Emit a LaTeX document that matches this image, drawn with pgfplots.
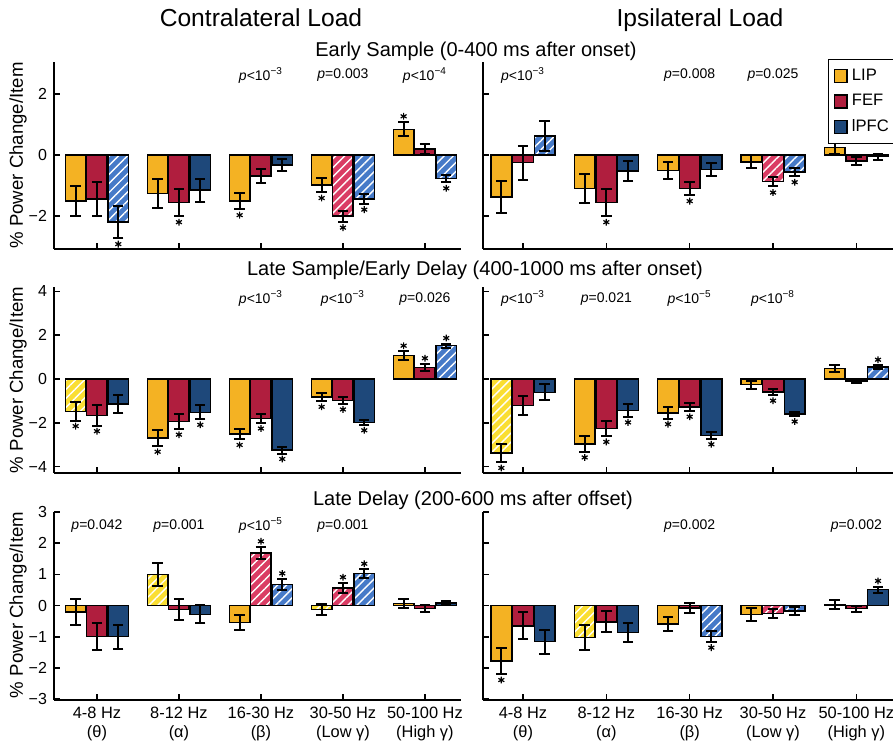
\documentclass[border=0pt]{standalone}
\usepackage{pgfplots}
\pgfplotsset{compat=1.18}
\usetikzlibrary{patterns.meta}
\usepackage{fontspec}
\setmainfont{Liberation Sans}

\definecolor{cLIP}{RGB}{244,178,35}
\definecolor{cFEF}{RGB}{176,30,62}
\definecolor{cPFC}{RGB}{30,72,122}
\definecolor{hLIP}{RGB}{250,222,50}
\definecolor{hFEF}{RGB}{218,60,100}
\definecolor{hPFC}{RGB}{70,122,200}

\tikzset{pv/.style={font=\fontsize{7}{8}\selectfont}}
\pgfplotsset{
  bars/.style={ybar, bar width=0.25, bar shift=0pt, draw=black, line width=0.75pt, forget plot,
     error bars/y dir=both, error bars/y explicit,
     error bars/error bar style={black, line width=1pt},
     error bars/error mark=-,
     error bars/error mark options={rotate=90, black, line width=1pt, mark size=2.6pt}},
  hfill/.style={ybar, bar width=0.25, bar shift=0pt, draw=none, forget plot},
  hpat/.style={bars, fill=none, pattern={Lines[angle=45,distance=3.2pt,line width=0.7pt]}, pattern color=white},
  LIPs/.style={bars, fill=cLIP},
  FEFs/.style={bars, fill=cFEF},
  PFCs/.style={bars, fill=cPFC},
  stars/.style={only marks, mark=asterisk, mark size=1.7pt, black, line width=0.6pt, forget plot},
  panel/.style={scale only axis, anchor=south west,
     axis x line*=bottom, axis y line*=left,
     xtick={1,2,3,4,5}, xticklabels={},
     tick align=inside, major tick length=3pt,
     tick style={black, line width=0.8pt},
     axis line style={line width=0.9pt},
     tick label style={font=\fontsize{8}{9}\selectfont},
     /pgf/number format/assume math mode=true},
  leftcol/.style={panel, width=203.5pt, xmin=0.476, xmax=5.44},
  rightcol/.style={panel, width=205pt, xmin=0.52, xmax=5.44, yticklabels={}},
  row1/.style={height=93.5pt, ymin=-3.08, ymax=3.05, ytick={-2,0,2}},
  row2/.style={height=93pt, ymin=-4.29, ymax=4.2, ytick={-4,-2,0,2,4}},
  row3/.style={height=94pt, ymin=-3.03, ymax=3.0, ytick={-3,-2,-1,0,1,2,3},
     xticklabels={{4-8 Hz\\(θ)},{8-12 Hz\\(α)},{16-30 Hz\\(β)},{30-50 Hz\\(Low γ)},{50-100 Hz\\(High γ)}},
     xticklabel style={align=center, font=\fontsize{8.2}{9.6}\selectfont}},
}
\newcommand{\pl}[1]{\textit{p}<10\textsuperscript{−#1}}
\newcommand{\pe}[1]{\textit{p}=#1}

\begin{document}
\begin{tikzpicture}
\useasboundingbox (0pt,0pt) rectangle (446.5pt,372.5pt);

% titles
\node[anchor=base, font=\fontsize{12.3}{14}\selectfont] at (130.5pt,359pt) {Contralateral Load};
\node[anchor=base, font=\fontsize{12.3}{14}\selectfont] at (350pt,359pt) {Ipsilateral Load};
\node[anchor=base, font=\fontsize{10}{12}\selectfont] at (238pt,344pt) {Early Sample (0-400 ms after onset)};
\node[anchor=base, font=\fontsize{10}{12}\selectfont] at (237.5pt,234.5pt) {Late Sample/Early Delay (400-1000 ms after onset)};
\node[anchor=base, font=\fontsize{10}{12}\selectfont] at (236.5pt,120pt) {Late Delay (200-600 ms after offset)};
\node[rotate=90, font=\fontsize{9.3}{11}\selectfont] at (9pt,294.75pt) {\% Power Change/Item};
\node[rotate=90, font=\fontsize{9.3}{11}\selectfont] at (9pt,182.5pt) {\% Power Change/Item};
\node[rotate=90, font=\fontsize{9.3}{11}\selectfont] at (9pt,70pt) {\% Power Change/Item};

% ---------- Row 1 left ----------
\begin{axis}[leftcol, row1, at={(27pt,248pt)}, yticklabels={−2,0,2}]
\addplot[LIPs] coordinates {(0.74,-1.50) +- (0,0.50) (1.74,-1.26) +- (0,0.49) (2.74,-1.50) +- (0,0.27) (3.74,-0.98) +- (0,0.23) (4.74,0.84) +- (0,0.23)};
\addplot[FEFs] coordinates {(1,-1.44) +- (0,0.57) (2,-1.55) +- (0,0.45) (3,-0.69) +- (0,0.24) (5,0.19) +- (0,0.17)};
\addplot[PFCs] coordinates {(2.26,-1.15) +- (0,0.38) (3.26,-0.33) +- (0,0.19)};
\addplot[hfill, fill=hFEF] coordinates {(4,-2.00)};
\addplot[hpat] coordinates {(4,-2.00) +- (0,0.18)};
\addplot[hfill, fill=hPFC] coordinates {(1.26,-2.19) (4.26,-1.44) (5.26,-0.77)};
\addplot[hpat] coordinates {(1.26,-2.19) +- (0,0.53) (4.26,-1.44) +- (0,0.15) (5.26,-0.77) +- (0,0.12)};
\addplot[stars] coordinates {(1.26,-2.92) (2,-2.20) (2.74,-1.97) (3.74,-1.41) (4,-2.38) (4.26,-1.79) (4.74,1.27) (5.26,-1.09)};
\node[pv] at (axis cs:3,2.62) {\pl{3}};
\node[pv] at (axis cs:4,2.62) {\pe{0.003}};
\node[pv] at (axis cs:5,2.62) {\pl{4}};
\end{axis}

% ---------- Row 1 right ----------
\begin{axis}[rightcol, row1, at={(241.5pt,248pt)},
  legend style={at={(0.841,1.016)}, anchor=north west, draw=black, line width=0.7pt,
    font=\fontsize{8.3}{10}\selectfont, row sep=1.5pt, inner sep=2.5pt, cells={anchor=west}}]
\addlegendimage{legend image code/.code={\draw[black, line width=0.8pt, fill=cLIP] (0pt,-3.2pt) rectangle (6.4pt,3.2pt);}}
\addlegendentry{LIP}
\addlegendimage{legend image code/.code={\draw[black, line width=0.8pt, fill=cFEF] (0pt,-3.2pt) rectangle (6.4pt,3.2pt);}}
\addlegendentry{FEF}
\addlegendimage{legend image code/.code={\draw[black, line width=0.8pt, fill=cPFC] (0pt,-3.2pt) rectangle (6.4pt,3.2pt);}}
\addlegendentry{lPFC}
\addplot[LIPs] coordinates {(0.74,-1.37) +- (0,0.52) (1.74,-1.09) +- (0,0.48) (2.74,-0.51) +- (0,0.27) (3.74,-0.22) +- (0,0.22) (4.74,0.25) +- (0,0.23)};
\addplot[FEFs] coordinates {(1,-0.25) +- (0,0.56) (2,-1.56) +- (0,0.44) (3,-1.09) +- (0,0.22) (5,-0.19) +- (0,0.14)};
\addplot[PFCs] coordinates {(2.26,-0.52) +- (0,0.33) (3.26,-0.47) +- (0,0.21) (5.26,-0.05) +- (0,0.10)};
\addplot[hfill, fill=hFEF] coordinates {(4,-0.87)};
\addplot[hpat] coordinates {(4,-0.87) +- (0,0.16)};
\addplot[hfill, fill=hPFC] coordinates {(1.26,0.63) (4.26,-0.55)};
\addplot[hpat] coordinates {(1.26,0.63) +- (0,0.50) (4.26,-0.55) +- (0,0.14)};
\addplot[stars] coordinates {(2,-2.20) (3,-1.51) (4,-1.23) (4.26,-0.89)};
\node[pv] at (axis cs:1,2.62) {\pl{3}};
\node[pv] at (axis cs:3,2.62) {\pe{0.008}};
\node[pv] at (axis cs:4,2.62) {\pe{0.025}};
\end{axis}

% ---------- Row 2 left ----------
\begin{axis}[leftcol, row2, at={(27pt,136pt)}, yticklabels={−4,−2,0,2,4}]
\addplot[LIPs] coordinates {(1.74,-2.70) +- (0,0.37) (2.74,-2.52) +- (0,0.24) (3.74,-0.82) +- (0,0.20) (4.74,1.08) +- (0,0.19)};
\addplot[FEFs] coordinates {(1,-1.66) +- (0,0.47) (2,-1.94) +- (0,0.35) (3,-1.81) +- (0,0.20) (4,-0.98) +- (0,0.16) (5,0.53) +- (0,0.17)};
\addplot[PFCs] coordinates {(1.26,-1.14) +- (0,0.40) (2.26,-1.52) +- (0,0.32) (3.26,-3.25) +- (0,0.15) (4.26,-1.98) +- (0,0.11)};
\addplot[hfill, fill=hLIP] coordinates {(0.74,-1.48)};
\addplot[hpat] coordinates {(0.74,-1.48) +- (0,0.42)};
\addplot[hfill, fill=hPFC] coordinates {(5.26,1.52)};
\addplot[hpat] coordinates {(5.26,1.52) +- (0,0.10)};
\addplot[stars] coordinates {(0.74,-2.15) (1,-2.38) (1.74,-3.32) (2,-2.54) (2.26,-2.09) (2.74,-3.01) (3,-2.26) (3.26,-3.65) (3.74,-1.27) (4,-1.39) (4.26,-2.34) (4.74,1.52) (5,0.95) (5.26,1.87)};
\node[pv] at (axis cs:3,3.66) {\pl{3}};
\node[pv] at (axis cs:4,3.66) {\pl{3}};
\node[pv] at (axis cs:5,3.66) {\pe{0.026}};
\end{axis}

% ---------- Row 2 right ----------
\begin{axis}[rightcol, row2, at={(241.5pt,136pt)}]
\addplot[LIPs] coordinates {(1.74,-2.96) +- (0,0.37) (2.74,-1.55) +- (0,0.26) (3.74,-0.26) +- (0,0.19) (4.74,0.47) +- (0,0.17)};
\addplot[FEFs] coordinates {(1,-1.22) +- (0,0.43) (2,-2.26) +- (0,0.36) (3,-1.28) +- (0,0.19) (4,-0.59) +- (0,0.15) (5,-0.08) +- (0,0.09)};
\addplot[PFCs] coordinates {(1.26,-0.61) +- (0,0.36) (2.26,-1.43) +- (0,0.30) (3.26,-2.58) +- (0,0.15) (4.26,-1.59) +- (0,0.10)};
\addplot[hfill, fill=hLIP] coordinates {(0.74,-3.38)};
\addplot[hpat] coordinates {(0.74,-3.38) +- (0,0.43)};
\addplot[hfill, fill=hPFC] coordinates {(5.26,0.55)};
\addplot[hpat] coordinates {(5.26,0.55) +- (0,0.08)};
\addplot[stars] coordinates {(0.74,-4.06) (1.74,-3.58) (2,-2.87) (2.26,-1.98) (2.74,-2.06) (3,-1.72) (3.26,-2.98) (4,-0.99) (4.26,-1.94) (5.26,0.88)};
\node[pv] at (axis cs:1,3.66) {\pl{3}};
\node[pv] at (axis cs:2,3.66) {\pe{0.021}};
\node[pv] at (axis cs:3,3.66) {\pl{5}};
\node[pv] at (axis cs:4,3.66) {\pl{8}};
\end{axis}

% ---------- Row 3 left ----------
\begin{axis}[leftcol, row3, at={(27pt,22.5pt)}, yticklabels={−3,−2,−1,0,1,2,3}]
\addplot[LIPs] coordinates {(0.74,-0.20) +- (0,0.41) (2.74,-0.55) +- (0,0.24) (4.74,0.07) +- (0,0.14)};
\addplot[FEFs] coordinates {(1,-1.00) +- (0,0.44) (2,-0.12) +- (0,0.34) (5,-0.10) +- (0,0.12)};
\addplot[PFCs] coordinates {(1.26,-1.00) +- (0,0.39) (2.26,-0.28) +- (0,0.29) (5.26,0.08) +- (0,0.07)};
\addplot[hfill, fill=hLIP] coordinates {(1.74,1.00) (3.74,-0.12)};
\addplot[hpat] coordinates {(1.74,1.00) +- (0,0.38) (3.74,-0.12) +- (0,0.18)};
\addplot[hfill, fill=hFEF] coordinates {(3,1.68) (4,0.57)};
\addplot[hpat] coordinates {(3,1.68) +- (0,0.20) (4,0.57) +- (0,0.16)};
\addplot[hfill, fill=hPFC] coordinates {(3.26,0.68) (4.26,1.02)};
\addplot[hpat] coordinates {(3.26,0.68) +- (0,0.17) (4.26,1.02) +- (0,0.14)};
\addplot[stars] coordinates {(3,2.06) (3.26,1.03) (4,0.91) (4.26,1.34)};
\node[pv] at (axis cs:1,2.56) {\pe{0.042}};
\node[pv] at (axis cs:2,2.56) {\pe{0.001}};
\node[pv] at (axis cs:3,2.56) {\pl{5}};
\node[pv] at (axis cs:4,2.56) {\pe{0.001}};
\end{axis}

% ---------- Row 3 right ----------
\begin{axis}[rightcol, row3, at={(241.5pt,22.5pt)}]
\addplot[LIPs] coordinates {(0.74,-1.78) +- (0,0.43) (2.74,-0.60) +- (0,0.22) (3.74,-0.28) +- (0,0.20) (4.74,0.03) +- (0,0.14)};
\addplot[FEFs] coordinates {(1,-0.65) +- (0,0.43) (2,-0.52) +- (0,0.33) (3,-0.08) +- (0,0.15) (5,-0.10) +- (0,0.10)};
\addplot[PFCs] coordinates {(1.26,-1.16) +- (0,0.39) (2.26,-0.86) +- (0,0.30) (5.26,0.51) +- (0,0.10)};
\addplot[hfill, fill=hLIP] coordinates {(1.74,-1.03)};
\addplot[hpat] coordinates {(1.74,-1.03) +- (0,0.41)};
\addplot[hfill, fill=hFEF] coordinates {(4,-0.26)};
\addplot[hpat] coordinates {(4,-0.26) +- (0,0.15)};
\addplot[hfill, fill=hPFC] coordinates {(3.26,-1.00) (4.26,-0.17)};
\addplot[hpat] coordinates {(3.26,-1.00) +- (0,0.17) (4.26,-0.17) +- (0,0.13)};
\addplot[stars] coordinates {(0.74,-2.39) (3.26,-1.35) (5.26,0.79)};
\node[pv] at (axis cs:3,2.56) {\pe{0.002}};
\node[pv] at (axis cs:5,2.56) {\pe{0.002}};
\end{axis}
\end{tikzpicture}
\end{document}
